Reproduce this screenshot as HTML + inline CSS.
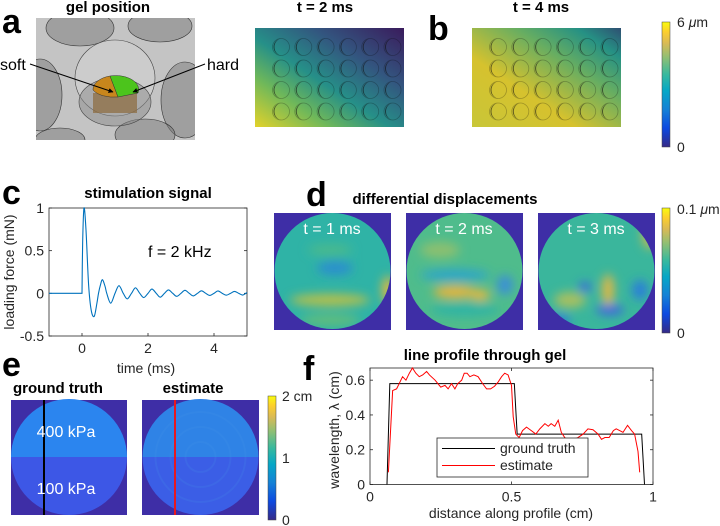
<!DOCTYPE html>
<html><head><meta charset="utf-8">
<style>
body{margin:0;background:#fff}
svg{display:block;font-family:"Liberation Sans",Arial,sans-serif}
.pl{font-weight:bold;font-size:34px}
.tt{font-weight:bold;font-size:15px}
.tk{font-size:14px;fill:#262626}
</style></head><body>
<svg id="fig" width="720" height="526" viewBox="0 0 720 526">
<defs>
<linearGradient id="parula" x1="0" y1="1" x2="0" y2="0">
<stop offset="0" stop-color="#352a87"/><stop offset="0.15" stop-color="#0d49e0"/><stop offset="0.3" stop-color="#1581d6"/><stop offset="0.45" stop-color="#06a7c6"/><stop offset="0.58" stop-color="#38b99e"/><stop offset="0.72" stop-color="#92bf73"/><stop offset="0.83" stop-color="#d9ba56"/><stop offset="0.92" stop-color="#fcce2e"/><stop offset="1" stop-color="#f9fb0e"/>
</linearGradient>
<linearGradient id="plate2" x1="0" y1="1" x2="1" y2="0">
<stop offset="0" stop-color="#e3d22a"/><stop offset="0.25" stop-color="#6fb85a"/><stop offset="0.45" stop-color="#269088"/><stop offset="0.7" stop-color="#33557f"/><stop offset="1" stop-color="#3a1b5c"/>
</linearGradient>
<linearGradient id="plate4" x1="0" y1="1" x2="1" y2="0">
<stop offset="0" stop-color="#c8c638"/><stop offset="0.35" stop-color="#d6c22e"/><stop offset="0.65" stop-color="#66ad62"/><stop offset="0.85" stop-color="#269184"/><stop offset="1" stop-color="#2f4f72"/>
</linearGradient>
<filter id="blur4"><feGaussianBlur stdDeviation="5"/></filter>
<clipPath id="cd1"><circle cx="332.5" cy="271" r="58"/></clipPath>
<clipPath id="cd2"><circle cx="464.5" cy="271" r="58"/></clipPath>
<clipPath id="cd3"><circle cx="596.5" cy="271" r="58"/></clipPath>
<clipPath id="ce1"><circle cx="69" cy="457" r="58"/></clipPath>
<clipPath id="ce2"><circle cx="200.5" cy="457" r="58"/></clipPath>
<clipPath id="ca"><rect x="36" y="18" width="159" height="122"/></clipPath>
<marker id="ah" viewBox="0 0 10 10" refX="9" refY="5" markerWidth="5" markerHeight="5" orient="auto"><path d="M0,0L10,5L0,10z" fill="#000"/></marker>
</defs>

<!-- Panel a -->
<text class="pl" x="2" y="33">a</text>
<text class="tt" x="108" y="12" text-anchor="middle">gel position</text>
<g>
<rect x="36" y="18" width="159" height="122" fill="#c4c4c4"/>
<g clip-path="url(#ca)">
<g fill="#7a7a7a" fill-opacity="0.5" stroke="#333" stroke-width="0.6">
<ellipse cx="80" cy="28" rx="34" ry="18"/><ellipse cx="160" cy="26" rx="32" ry="16"/><ellipse cx="40" cy="95" rx="22" ry="36"/>
<ellipse cx="185" cy="100" rx="24" ry="38"/><ellipse cx="145" cy="135" rx="30" ry="16"/><ellipse cx="60" cy="140" rx="25" ry="12"/>
</g>
<ellipse cx="115" cy="78" rx="40" ry="38" fill="#d2d2d2" fill-opacity="0.6" stroke="#444" stroke-width="0.6"/>
<ellipse cx="115" cy="102" rx="36" ry="24" fill="#8a8a8a" fill-opacity="0.5" stroke="#444" stroke-width="0.6"/>
</g>
<rect x="93" y="93" width="44" height="20" fill="#8c6a3c" fill-opacity="0.7"/>
<path d="M93,90 A23,14 0 0 1 110,76 L118,97 A23,12 0 0 1 93,90Z" fill="#c8861c" stroke="#333" stroke-width="0.5"/>
<path d="M110,76 A23,14 0 0 1 138,93 L118,97Z" fill="#4cc41c" stroke="#333" stroke-width="0.5"/>
<line x1="30" y1="64" x2="113" y2="92" stroke="#000" stroke-width="1" marker-end="url(#ah)"/>
<line x1="205" y1="64" x2="133" y2="92" stroke="#000" stroke-width="1" marker-end="url(#ah)"/>
</g>
<text x="0" y="70" font-size="16">soft</text>
<text x="207" y="70" font-size="16">hard</text>

<!-- plates -->
<text class="tt" x="325" y="12" text-anchor="middle">t = 2 ms</text>
<g id="plate2g"><rect x="255" y="28" width="149" height="99" fill="url(#plate2)"/></g>
<text class="pl" x="428" y="40">b</text>
<text class="tt" x="541" y="12" text-anchor="middle">t = 4 ms</text>
<g id="plate4g"><rect x="472" y="28" width="149" height="99" fill="url(#plate4)"/></g>
<g>
<rect x="662" y="22" width="8" height="125" fill="url(#parula)" stroke="#444" stroke-width="0.5"/>
<text class="tk" x="677" y="27">6 <tspan font-style="italic">μ</tspan>m</text>
<text class="tk" x="677" y="152">0</text>
</g>

<!-- Panel c -->
<text class="pl" x="2" y="204">c</text>
<text class="tt" x="148" y="198" text-anchor="middle">stimulation signal</text>
<g id="chartC"></g>
<text x="148" y="257" font-size="16">f = 2 kHz</text>
<text class="tk" font-size="15" x="146" y="373" text-anchor="middle">time (ms)</text>
<text class="tk" font-size="15" transform="translate(14,272) rotate(-90)" text-anchor="middle">loading force (mN)</text>

<!-- Panel d -->
<text class="pl" x="306" y="206">d</text>
<text class="tt" x="445" y="204" text-anchor="middle">differential displacements</text>
<g>
<rect x="274" y="213" width="117" height="117" fill="#3e2ea6"/>
<circle cx="332.5" cy="271" r="58" fill="#2fb3a6"/>
<g clip-path="url(#cd1)" filter="url(#blur4)">
<ellipse cx="330" cy="300" rx="40" ry="6" fill="#b9c04a"/><ellipse cx="388" cy="290" rx="6" ry="14" fill="#e0b940"/>
<ellipse cx="335" cy="268" rx="18" ry="7" fill="#2a8fce"/><ellipse cx="330" cy="250" rx="22" ry="6" fill="#48b98e"/>
<ellipse cx="330" cy="320" rx="30" ry="6" fill="#62bd7c"/></g>
<text x="332" y="234" font-size="16" fill="#fff" text-anchor="middle">t = 1 ms</text></g>
<g>
<rect x="406" y="213" width="117" height="117" fill="#3e2ea6"/>
<circle cx="464.5" cy="271" r="58" fill="#4fbc8c"/>
<g clip-path="url(#cd2)" filter="url(#blur4)">
<ellipse cx="455" cy="292" rx="22" ry="6" fill="#f0b43a"/><ellipse cx="480" cy="295" rx="10" ry="5" fill="#f3b73a"/>
<ellipse cx="455" cy="275" rx="35" ry="6" fill="#2fa5c8"/><ellipse cx="505" cy="285" rx="8" ry="10" fill="#3b8fd6"/>
<ellipse cx="440" cy="250" rx="20" ry="8" fill="#8cc070"/><ellipse cx="465" cy="310" rx="35" ry="6" fill="#2fb3a6"/></g>
<text x="464" y="234" font-size="16" fill="#fff" text-anchor="middle">t = 2 ms</text></g>
<g>
<rect x="538" y="213" width="117" height="117" fill="#3e2ea6"/>
<circle cx="596.5" cy="271" r="58" fill="#3ab69c"/>
<g clip-path="url(#cd3)" filter="url(#blur4)">
<ellipse cx="608" cy="290" rx="6" ry="16" fill="#e3b844"/><ellipse cx="585" cy="287" rx="6" ry="5" fill="#3b63e0"/>
<ellipse cx="610" cy="310" rx="14" ry="5" fill="#3b63e0"/><ellipse cx="570" cy="300" rx="16" ry="8" fill="#a8c060"/>
<ellipse cx="640" cy="290" rx="8" ry="10" fill="#2a7fd8"/><ellipse cx="650" cy="235" rx="8" ry="14" fill="#c4bc50"/>
<ellipse cx="560" cy="320" rx="10" ry="6" fill="#2a7fd8"/></g>
<text x="596" y="234" font-size="16" fill="#fff" text-anchor="middle">t = 3 ms</text></g>
<g>
<rect x="662" y="208" width="8" height="125" fill="url(#parula)" stroke="#444" stroke-width="0.5"/>
<text class="tk" x="677" y="214">0.1 <tspan font-style="italic">μ</tspan>m</text>
<text class="tk" x="677" y="338">0</text>
</g>

<!-- Panel e -->
<text class="pl" x="2" y="376">e</text>
<text class="tt" x="58" y="393" text-anchor="middle">ground truth</text>
<text class="tt" x="193" y="393" text-anchor="middle">estimate</text>
<g>
<rect x="11" y="400" width="116" height="115" fill="#3e2ea6"/>
<g clip-path="url(#ce1)"><rect x="10" y="398" width="118" height="59" fill="#2b85ef"/><rect x="10" y="457" width="118" height="60" fill="#3d57e6"/></g>
<line x1="44" y1="400" x2="44" y2="515" stroke="#000" stroke-width="2"/>
<text x="66" y="437" font-size="16" fill="#fff" text-anchor="middle">400 kPa</text>
<text x="66" y="494" font-size="16" fill="#fff" text-anchor="middle">100 kPa</text>
</g>
<g>
<rect x="142" y="400" width="117" height="115" fill="#3e2ea6"/>
<g clip-path="url(#ce2)"><rect x="140" y="398" width="120" height="59" fill="#2f83e6"/><rect x="140" y="457" width="120" height="60" fill="#3b5ee6"/>
<g fill="none" stroke="#4a9aee" stroke-opacity="0.15" stroke-width="2"><circle cx="200.5" cy="457" r="15"/><circle cx="200.5" cy="457" r="30"/><circle cx="200.5" cy="457" r="45"/></g></g>
<line x1="175" y1="400" x2="175" y2="515" stroke="#e8181e" stroke-width="2"/>
</g>
<g>
<rect x="268" y="396" width="8" height="124" fill="url(#parula)" stroke="#444" stroke-width="0.5"/>
<text class="tk" x="282" y="401">2 cm</text>
<text class="tk" x="282" y="463">1</text>
<text class="tk" x="282" y="525">0</text>
</g>

<!-- Panel f -->
<text class="pl" x="303" y="380">f</text>
<text class="tt" x="485" y="360" text-anchor="middle">line profile through gel</text>
<g id="chartF"></g>
<text class="tk" font-size="15" x="511" y="518" text-anchor="middle">distance along profile (cm)</text>
<text class="tk" font-size="15" transform="translate(339,430) rotate(-90)" text-anchor="middle">wavelength,  λ (cm)</text>
</svg>
<script>
// Panel c data
var cTimes=[-1,0,0.02,0.06,0.12,0.2,0.28,0.37,0.45,0.5,0.56,0.62,0.7,0.75,0.87,1,1.12,1.25,1.37,1.5,1.62,1.75,1.87,2,2.12,2.25,2.37,2.5,2.62,2.75,2.87,3,3.12,3.25,3.37,3.5,3.62,3.75,3.87,4,4.12,4.25,4.37,4.5,4.62,4.75,4.87,5];
var cForce=[0,0,0.6,1,0.75,0.1,-0.2,-0.27,-0.12,0,0.1,0.16,0.08,0,-0.115,0,0.09,0,-0.065,0,0.065,0,-0.05,0,0.05,0,-0.045,0,0.04,0,-0.035,0,0.035,0,-0.03,0,0.03,0,-0.025,0,0.028,0,-0.022,0,0.022,0,-0.02,0.01];
var cXTicks=[0,2,4];
var cYTicks=[-0.5,0,0.5,1];
// Panel f data
var fTruthX=[0.06,0.07,0.51,0.52,0.96,0.97];
var fTruthY=[0,0.58,0.58,0.29,0.29,0];
var fEstX=[0.065,0.08,0.094,0.106,0.115,0.127,0.139,0.15,0.162,0.174,0.186,0.2,0.21,0.23,0.24,0.25,0.265,0.276,0.288,0.3,0.31,0.324,0.333,0.343,0.353,0.367,0.382,0.398,0.412,0.426,0.44,0.453,0.465,0.476,0.488,0.5,0.506,0.515,0.527,0.539,0.553,0.57,0.586,0.6,0.618,0.63,0.64,0.653,0.665,0.676,0.688,0.7,0.718,0.735,0.753,0.77,0.788,0.806,0.818,0.83,0.845,0.86,0.87,0.882,0.894,0.91,0.924,0.935,0.947,0.953];
var fEstY=[0.07,0.54,0.55,0.59,0.62,0.6,0.64,0.67,0.64,0.62,0.63,0.65,0.63,0.6,0.58,0.56,0.57,0.55,0.58,0.55,0.58,0.6,0.64,0.64,0.62,0.63,0.62,0.58,0.55,0.55,0.565,0.59,0.62,0.64,0.63,0.57,0.39,0.29,0.27,0.31,0.33,0.31,0.29,0.32,0.35,0.335,0.35,0.335,0.37,0.3,0.27,0.255,0.26,0.27,0.29,0.32,0.315,0.29,0.26,0.27,0.27,0.31,0.32,0.31,0.3,0.34,0.31,0.29,0.19,0.07];
var fXTicks=[0,0.5,1];
var fYTicks=[0,0.2,0.4,0.6];

var NS="http://www.w3.org/2000/svg";
function mk(tag,attrs,parent){var e=document.createElementNS(NS,tag);for(var k in attrs)e.setAttribute(k,attrs[k]);parent.appendChild(e);return e;}

function holes(id,x0,y0){
  var g=document.getElementById(id);
  for(var r=0;r<4;r++)for(var c=0;c<6;c++){
    var cx=x0+26+c*22.3,cy=y0+19+r*21.5,R=8.5;
    var h=mk('circle',{cx:cx,cy:cy,r:R,fill:'none',stroke:'#000','stroke-opacity':0.25,'stroke-width':0.8},g);
    
    
    var p=mk('path',{d:'M'+(cx+1)+','+(cy-R)+' A'+R+','+R+' 0 0 0 '+(cx+1)+','+(cy+R)+' A'+(R-1)+','+(R)+' 0 0 1 '+(cx+1)+','+(cy-R)+'Z',fill:'#111','fill-opacity':0.6},g);
    
    
  }
}
holes('plate2g',255,28);holes('plate4g',472,28);

(function(){
  var g=document.getElementById('chartC');
  var L=49,R=247,T=208,B=336;
  var xs=function(v){return L+(v+1)/6*(R-L);}, ys=function(v){return B-(v+0.5)/1.5*(B-T);};
  var box=mk('rect',{x:L,y:T,width:R-L,height:B-T,fill:'#fff',stroke:'#262626','stroke-width':0.8},g);
  
  
  cXTicks.forEach(function(t){
    mk('line',{x1:xs(t),x2:xs(t),y1:B,y2:B-3,stroke:'#262626','stroke-width':0.8},g);
    var tx=mk('text',{x:xs(t),y:B+17,'text-anchor':'middle','class':'tk'},g);tx.textContent=t;
    
    
  });
  cYTicks.forEach(function(t){
    mk('line',{x1:L,x2:L+3,y1:ys(t),y2:ys(t),stroke:'#262626','stroke-width':0.8},g);
    mk('line',{x1:R,x2:R-3,y1:ys(t),y2:ys(t),stroke:'#262626','stroke-width':0.8},g);
    var tx=mk('text',{x:L-5,y:ys(t)+5,'text-anchor':'end','class':'tk'},g);tx.textContent=t;
    
    
  });
  var pts=cTimes.map(function(t,i){return [xs(t),ys(cForce[i])];});
  var d='M'+pts[0][0]+','+pts[0][1]+' L'+pts[1][0]+','+pts[1][1];
  for(var i=1;i<pts.length-1;i++){
    var p0=pts[i-1],p1=pts[i],p2=pts[i+1],p3=pts[Math.min(i+2,pts.length-1)];
    if(i===1)p0=p1;
    d+=' C'+(p1[0]+(p2[0]-p0[0])/6)+','+(p1[1]+(p2[1]-p0[1])/6)+' '+(p2[0]-(p3[0]-p1[0])/6)+','+(p2[1]-(p3[1]-p1[1])/6)+' '+p2[0]+','+p2[1];
  }
  var ln=mk('path',{d:d,fill:'none',stroke:'#0072bd','stroke-width':1.1},g);
  
  
})();

(function(){
  var g=document.getElementById('chartF');
  var L=370,R=653,T=368,B=484.5;
  var xs=function(v){return L+v*(R-L);}, ys=function(v){return B-v/0.67*(B-T);};
  var box=mk('rect',{x:L,y:T,width:R-L,height:B-T,fill:'#fff',stroke:'#262626','stroke-width':0.8},g);
  
  
  fXTicks.forEach(function(t){
    mk('line',{x1:xs(t),x2:xs(t),y1:B,y2:B-3,stroke:'#262626','stroke-width':0.8},g);
    mk('line',{x1:xs(t),x2:xs(t),y1:T,y2:T+3,stroke:'#262626','stroke-width':0.8},g);
    var tx=mk('text',{x:xs(t),y:B+17,'text-anchor':'middle','class':'tk'},g);tx.textContent=t;
    
    
  });
  fYTicks.forEach(function(t){
    mk('line',{x1:L,x2:L+3,y1:ys(t),y2:ys(t),stroke:'#262626','stroke-width':0.8},g);
    mk('line',{x1:R,x2:R-3,y1:ys(t),y2:ys(t),stroke:'#262626','stroke-width':0.8},g);
    var tx=mk('text',{x:L-5,y:ys(t)+5,'text-anchor':'end','class':'tk'},g);tx.textContent=t;
    
    
  });
  var tr=mk('polyline',{points:fTruthX.map(function(x,i){return xs(x)+','+ys(fTruthY[i]);}).join(' '),fill:'none',stroke:'#000','stroke-width':1},g);
  
  
  var es=mk('polyline',{points:fEstX.map(function(x,i){return xs(x)+','+ys(fEstY[i]);}).join(' '),fill:'none',stroke:'#ff0000','stroke-width':1},g);
  
  
  var lg=mk('g',{},g);
  
  
  mk('rect',{x:437,y:438,width:151,height:39,fill:'#fff',stroke:'#262626','stroke-width':0.8},lg);
  mk('line',{x1:442,x2:495,y1:448.5,y2:448.5,stroke:'#000','stroke-width':1},lg);
  mk('line',{x1:442,x2:495,y1:465.5,y2:465.5,stroke:'#ff0000','stroke-width':1},lg);
  var t1=mk('text',{x:500,y:453,'class':'tk'},lg);t1.textContent='ground truth';
  
  
  var t2=mk('text',{x:500,y:470,'class':'tk'},lg);t2.textContent='estimate';
  
  
})();
</script>
</body></html>
